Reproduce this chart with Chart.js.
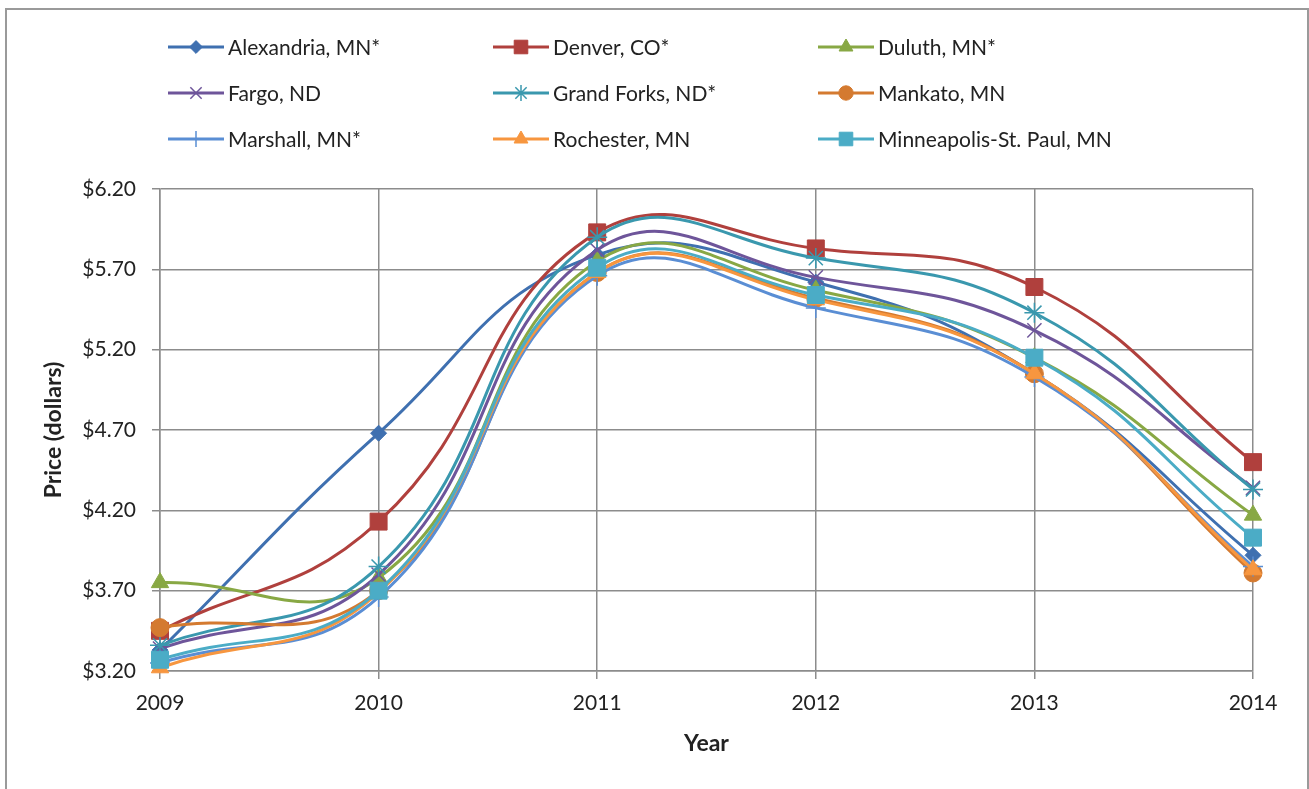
<!DOCTYPE html>
<html>
<head>
<meta charset="utf-8">
<script src="https://cdn.jsdelivr.net/npm/chart.js@4.4.1/dist/chart.umd.min.js"></script>
<style>
  html, body { margin: 0; padding: 0; background: #fff; }
  #wrap { width: 1309px; height: 789px; position: relative; }
</style>
</head>
<body>
<div id="wrap"><canvas id="main-chart" width="1309" height="789"></canvas></div>
<script>
const years = ['2009', '2010', '2011', '2012', '2013', '2014'];

const alexandria  = [3.33, 4.68, 5.79, 5.62, 5.05, 3.92];
const denver      = [3.45, 4.13, 5.93, 5.83, 5.59, 4.50];
const duluth      = [3.75, 3.78, 5.75, 5.57, 5.15, 4.17];
const fargo       = [3.34, 3.80, 5.82, 5.65, 5.32, 4.34];
const grandForks  = [3.36, 3.85, 5.90, 5.77, 5.43, 4.33];
const mankato     = [3.47, 3.70, 5.68, 5.52, 5.05, 3.81];
const marshall    = [3.25, 3.66, 5.66, 5.46, 5.03, 3.85];
const rochester   = [3.22, 3.69, 5.68, 5.51, 5.05, 3.83];
const minneapolis = [3.27, 3.70, 5.71, 5.54, 5.15, 4.03];

const yTicks = [3.20, 3.70, 4.20, 4.70, 5.20, 5.70, 6.20];

const FONT = 'Lato, "Open Sans", sans-serif';
const series = [
  { label: 'Alexandria, MN*',          data: alexandria,  color: '#3F70B0', style: 'rectRot',  r: 8  },
  { label: 'Denver, CO*',              data: denver,      color: '#B0403D', style: 'rect',     r: 12 },
  { label: 'Duluth, MN*',              data: duluth,      color: '#88A844', style: 'triangle', r: 10 },
  { label: 'Fargo, ND',                data: fargo,       color: '#6E559A', style: 'crossRot', r: 10 },
  { label: 'Grand Forks, ND*',         data: grandForks,  color: '#3A98AE', style: 'star',     r: 10 },
  { label: 'Mankato, MN',              data: mankato,     color: '#D47A30', style: 'circle',   r: 9  },
  { label: 'Marshall, MN*',            data: marshall,    color: '#5A8ED4', style: 'cross',    r: 10 },
  { label: 'Rochester, MN',            data: rochester,   color: '#F7963F', style: 'triangle', r: 10 },
  { label: 'Minneapolis-St. Paul, MN', data: minneapolis, color: '#4BACC6', style: 'rect',     r: 12 },
];

// legend in 3 columns, drawn on the canvas
const gridLegend = {
  id: 'gridLegend',
  afterDraw(chart) {
    const ctx = chart.ctx;
    const colX = [168, 493, 818];
    const rowY = [47, 93, 139];
    ctx.save();
    series.forEach((s, i) => {
      const x = colX[i % 3], y = rowY[Math.floor(i / 3)];
      ctx.strokeStyle = s.color;
      ctx.lineWidth = 3;
      ctx.beginPath(); ctx.moveTo(x, y); ctx.lineTo(x + 56, y); ctx.stroke();
      ctx.fillStyle = s.color;
      ctx.lineWidth = s.style === 'crossRot' || s.style === 'cross' || s.style === 'star' ? 1.5 : 1;
      Chart.helpers.drawPoint(ctx, { pointStyle: s.style, radius: s.r * 0.8, borderWidth: ctx.lineWidth }, x + 28, y);
      ctx.fillStyle = '#222';
      ctx.font = '21px ' + FONT;
      ctx.textBaseline = 'middle';
      ctx.fillText(s.label, x + 60, y + 1);
    });
    // outer frame
    ctx.strokeStyle = '#9a9a9a';
    ctx.lineWidth = 2;
    ctx.beginPath();
    ctx.moveTo(6, 800); ctx.lineTo(6, 9); ctx.lineTo(1308, 9); ctx.lineTo(1308, 800);
    ctx.stroke();
    ctx.restore();
  }
};

const tc = '#222';
const chart = new Chart(document.getElementById('main-chart'), {
  type: 'line',
  data: {
    labels: years,
    datasets: series.map((s, i) => ({
      label: s.label,
      data: s.data,
      borderColor: s.color,
      backgroundColor: s.color,
      pointBorderColor: s.color,
      pointBackgroundColor: s.color,
      pointStyle: s.style,
      pointRadius: s.r,
      pointBorderWidth: (s.style === 'crossRot' || s.style === 'cross' || s.style === 'star') ? 1.5 : 1,
      borderWidth: 3,
      tension: 0.45,
      order: series.length - 1 - i,
      clip: false,
    }))
  },
  options: {
    responsive: false,
    animation: false,
    layout: { padding: { left: 34, right: 56, top: 189, bottom: 30 } },
    plugins: { legend: { display: false }, tooltip: { enabled: false } },
    scales: {
      x: {
        type: 'category',
        offset: false,
        grid: { color: '#8c8c8c', lineWidth: 1.5, tickLength: 8, offset: false },
        border: { color: '#8c8c8c', width: 1.5 },
        ticks: { color: tc, font: { family: FONT, size: 21 }, padding: 12, maxRotation: 0 },
        title: { display: true, text: 'Year', color: tc, font: { family: FONT, size: 23, weight: 'bold' }, padding: { top: 4, bottom: 2 } },
        afterFit: s => { s.height = 88; }
      },
      y: {
        min: 3.2, max: 6.2,
        afterBuildTicks: s => { s.ticks = yTicks.map(v => ({ value: v })); },
        grid: { color: '#8c8c8c', lineWidth: 1.5, tickLength: 8 },
        border: { color: '#8c8c8c', width: 1.5 },
        ticks: { color: tc, font: { family: FONT, size: 21 }, padding: 16, callback: v => '$' + Number(v).toFixed(2) },
        title: { display: true, text: 'Price (dollars)', color: tc, font: { family: FONT, size: 23, weight: 'bold' }, padding: { top: 6, bottom: 4 } },
        afterFit: s => { s.width = 126; }
      }
    }
  },
  plugins: [gridLegend]
});
</script>
</body>
</html>
